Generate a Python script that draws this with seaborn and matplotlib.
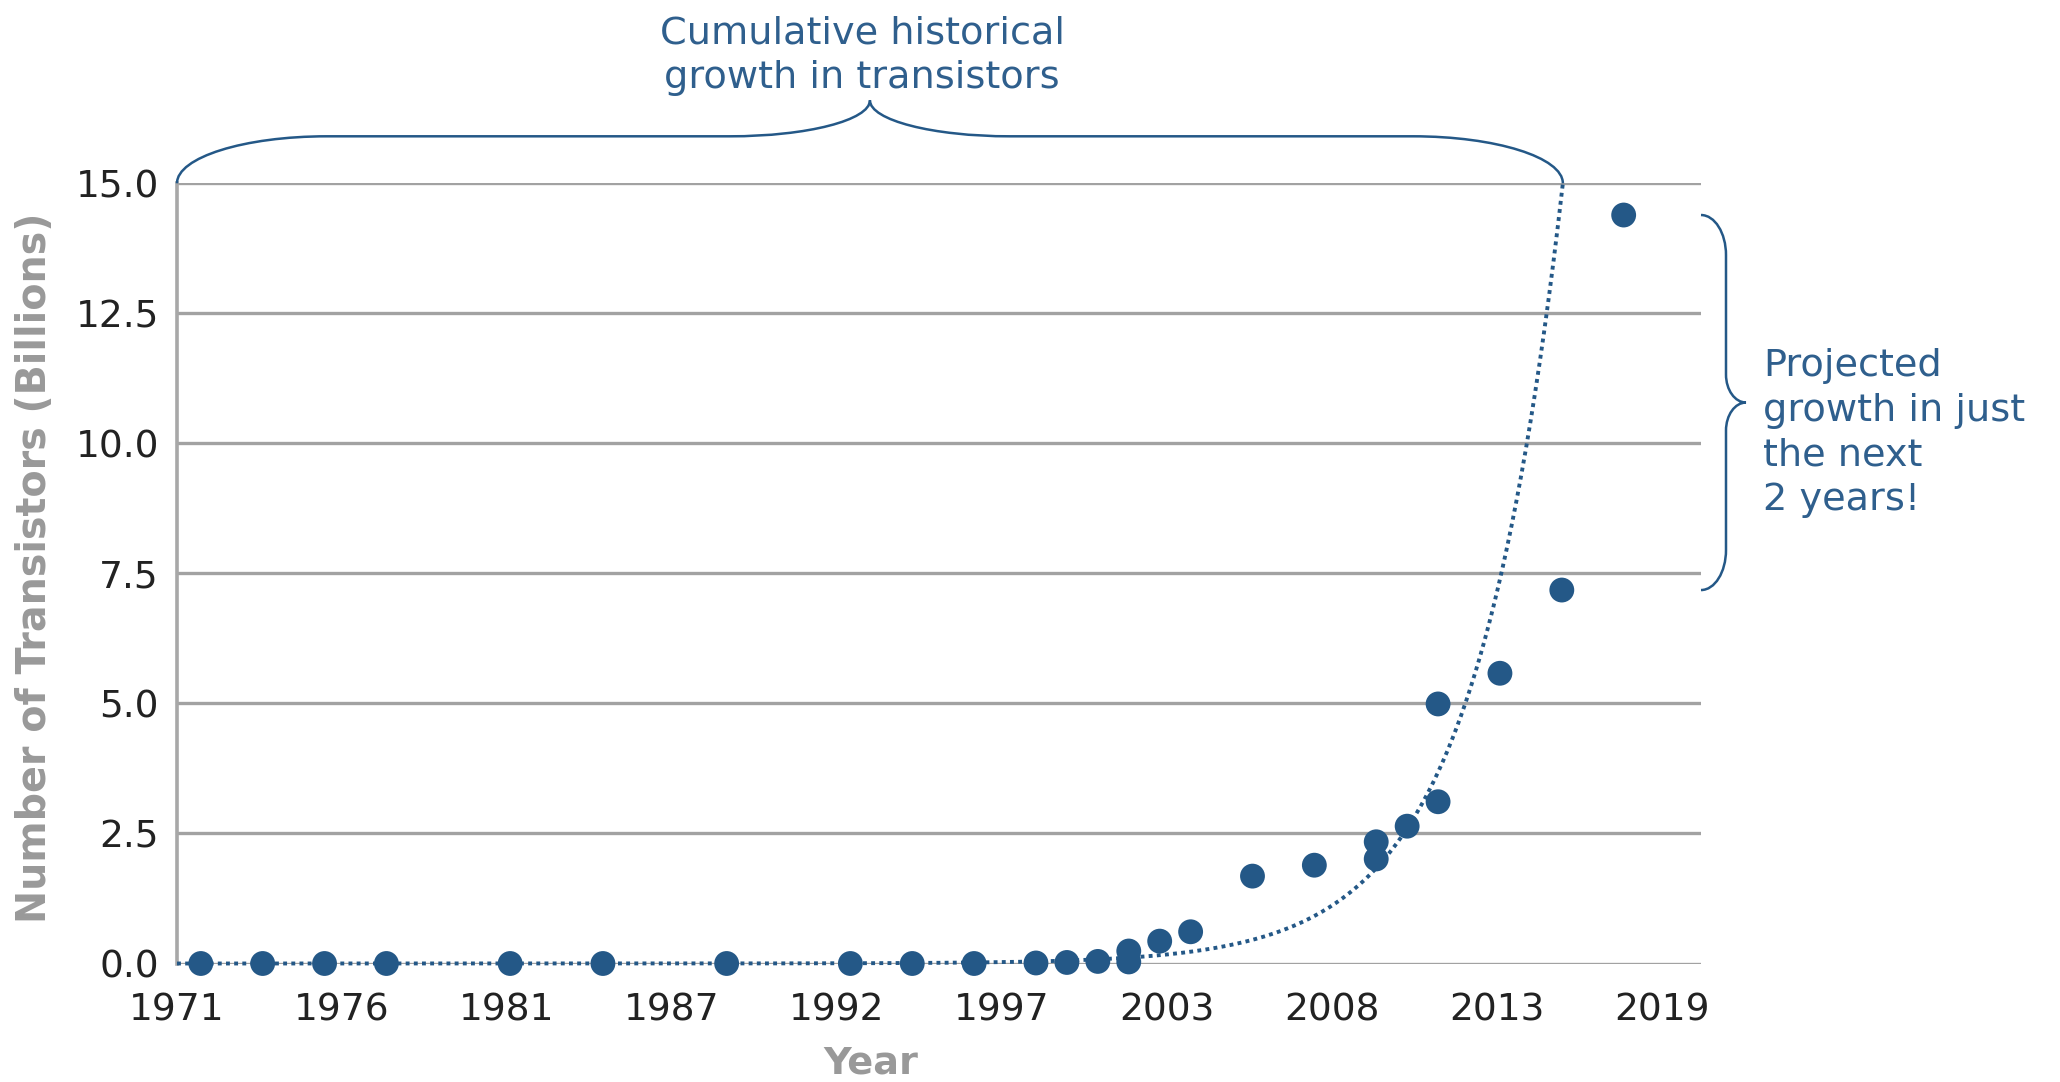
import numpy as np
import pandas as pd
import matplotlib
matplotlib.use("Agg")
import matplotlib.pyplot as plt
import seaborn as sns
from matplotlib.path import Path
from matplotlib.patches import PathPatch
from matplotlib.transforms import IdentityTransform

# ---------------- data ----------------
release_year = [1971.77, 1973.77, 1975.77, 1977.77, 1981.77, 1984.77, 1988.77,
                1992.77, 1994.77, 1996.77, 1998.77, 1999.77, 2000.77, 2001.77,
                2001.77, 2002.77, 2003.77, 2005.77, 2007.77, 2009.77, 2009.77,
                2010.77, 2011.77, 2011.77, 2013.77, 2015.77, 2017.77]
transistors_billions = [0.0, 0.0, 0.0, 0.0, 0.0, 0.0, 0.0,
                        0.0, 0.0, 0.0, 0.01, 0.02, 0.04, 0.03,
                        0.24, 0.43, 0.61, 1.68, 1.89, 2.01, 2.34,
                        2.64, 3.11, 4.99, 5.58, 7.18, 14.39]

x_tick_labels = ["1971", "1976", "1981", "1987", "1992", "1997",
                 "2003", "2008", "2013", "2019"]
y_tick_values = [0.0, 2.5, 5.0, 7.5, 10.0, 12.5, 15.0]

# exponential trend (Moore's law style)
trend_ref_year = 2010.66
trend_ref_value = 2.5
trend_doubling_years = 1.99

x_label = "Year"
y_label = "Number of Transistors (Billions)"
top_note = "Cumulative historical\ngrowth in transistors"
right_note = "Projected\ngrowth in just\nthe next\n2 years!"

# ---------------- style ----------------
BLUE = "#245887"
TEXT_BLUE = "#2f5f8d"
GRID = "#a2a2a2"

sns.set_theme(style="white")
plt.rcParams["font.family"] = ["DejaVu Sans"]

W, H = 2060, 1082
fig = plt.figure(figsize=(W / 100, H / 100), dpi=100)
ax_l, ax_r, ax_b, ax_t = 177, 1701, 963.5, 183.3
ax = fig.add_axes([ax_l / W, 1 - ax_b / H, (ax_r - ax_l) / W, (ax_b - ax_t) / H])

x_start = 1971.0
x_end = 2020.27
tick_step = (2019 - 1971) / 9.0
ax.set_xlim(x_start, x_end)
ax.set_ylim(0, 15)

# trend line
trend_end = trend_ref_year + trend_doubling_years * np.log2(15.0 / trend_ref_value)
trend_x = np.linspace(x_start, trend_end, 600)
trend_y = trend_ref_value * 2 ** ((trend_x - trend_ref_year) / trend_doubling_years)
sns.lineplot(x=trend_x, y=trend_y, ax=ax, color=BLUE, lw=2.8,
             linestyle=(0, (1, 1.1)), clip_on=False, zorder=3, errorbar=None)

# scatter points
df = pd.DataFrame({"year": release_year, "value": transistors_billions})
sns.scatterplot(data=df, x="year", y="value", ax=ax, color=BLUE, s=320,
                edgecolor="none", linewidth=0, clip_on=False, zorder=4)

# axes styling
ax.set_xticks([x_start + k * tick_step for k in range(len(x_tick_labels))])
ax.set_xticklabels(x_tick_labels)
ax.set_yticks(y_tick_values)
ax.set_yticklabels([f"{v:.1f}" for v in y_tick_values])
ax.grid(axis="y", color=GRID, lw=2.4)
ax.grid(axis="x", visible=False)
ax.set_axisbelow(True)
for s in ["top", "right", "bottom"]:
    ax.spines[s].set_visible(False)
ax.spines["left"].set_color("#a8a8a8")
ax.spines["left"].set_linewidth(2.6)
ax.tick_params(axis="both", length=0, labelsize=27, labelcolor="#222222")
ax.tick_params(axis="x", pad=21)
ax.tick_params(axis="y", pad=13)

ax.set_xlabel(x_label, fontsize=27.5, fontweight="bold", color="#999999")
ax.set_ylabel(y_label, fontsize=28.5, fontweight="bold", color="#999999")
ax.xaxis.label.set_va("center")
ax.yaxis.label.set_va("center")
ax.xaxis.set_label_coords((871 - ax_l) / (ax_r - ax_l), (ax_b - 1064) / (ax_b - ax_t))
ax.yaxis.set_label_coords((35 - ax_l) / (ax_r - ax_l), (ax_b - 568) / (ax_b - ax_t))


# ---------------- braces ----------------
def brace(p0, p1, normal, a, c, r1, r2):
    """Curly brace from p0 to p1 (display px), bulging along unit 'normal'."""
    p0 = np.asarray(p0, float)
    p1 = np.asarray(p1, float)
    d = p1 - p0
    L = np.hypot(*d)
    u = d / L
    n = np.asarray(normal, float)
    m = L / 2.0
    k = 0.552
    local = [
        ((0, 0), Path.MOVETO),
        ((0, k * a), Path.CURVE4), ((r1 - k * r1, a), Path.CURVE4), ((r1, a), Path.CURVE4),
        ((m - r2, a), Path.LINETO),
        ((m - r2 + k * r2, a), Path.CURVE4), ((m, c - k * (c - a)), Path.CURVE4), ((m, c), Path.CURVE4),
        ((m, c - k * (c - a)), Path.CURVE4), ((m + r2 - k * r2, a), Path.CURVE4), ((m + r2, a), Path.CURVE4),
        ((L - r1, a), Path.LINETO),
        ((L - r1 + k * r1, a), Path.CURVE4), ((L, k * a), Path.CURVE4), ((L, 0), Path.CURVE4),
    ]
    verts = [p0 + uu * u + vv * n for (uu, vv), _ in local]
    codes = [cd for _, cd in local]
    patch = PathPatch(Path(verts, codes), facecolor="none", edgecolor=BLUE,
                      lw=1.8, transform=IdentityTransform())
    fig.add_artist(patch)


fig.canvas.draw()
tp0 = ax.transData.transform((x_start, 15.0))
tp1 = ax.transData.transform((trend_end, 15.0))
brace(tp0, tp1, (0, 1), a=47, c=83, r1=150, r2=140)

rx = ax.transAxes.transform((1.0, 0))[0]
rtop = ax.transData.transform((x_end, transistors_billions[-1]))[1]
rbot = ax.transData.transform((x_end, transistors_billions[-2]))[1]
brace((rx, rtop), (rx, rbot), (1, 0), a=25, c=45, r1=40, r2=28)

fig.text(862 / W, 1 - 56 / H, top_note, ha="center", va="center",
         multialignment="center", fontsize=27.5, color=TEXT_BLUE, linespacing=1.32)
fig.text(1763 / W, 1 - 433 / H, right_note, ha="left", va="center",
         multialignment="left", fontsize=27.5, color=TEXT_BLUE, linespacing=1.32)

fig.savefig("out.png", dpi=100)
